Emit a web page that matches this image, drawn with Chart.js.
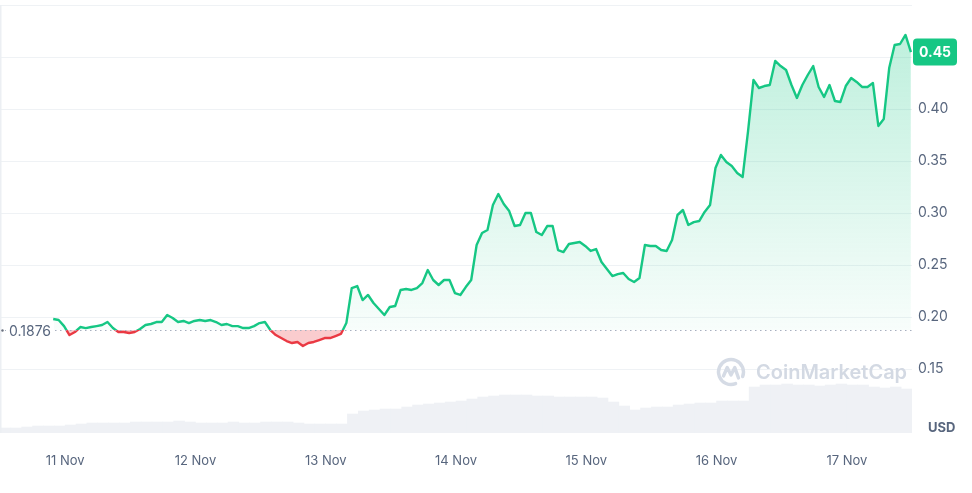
<!DOCTYPE html>
<html><head><meta charset="utf-8">
<script src="https://cdn.jsdelivr.net/npm/chart.js@4.4.0/dist/chart.umd.min.js"></script>
<style>html,body{margin:0;padding:0;background:#fff;}#wrap{width:972px;height:493px;}</style>
</head><body><div id="wrap"><canvas id="c" width="972" height="493"></canvas></div>
<script>
// ---- data ----
const dayLabels = ['11 Nov','12 Nov','13 Nov','14 Nov','15 Nov','16 Nov','17 Nov'];
const dayTicks = [0,24,48,72,96,120,144];          // hours since 11 Nov 00:00
const axisStartHour = -12, axisEndHour = 156;
const priceStartHour = -2.2, priceStepHours = 1;
const prices = [
0.1981,0.1971,0.1913,0.1827,0.1856,0.1904,0.1894,0.1904,0.1913,0.1923,
0.1952,0.1894,0.1856,0.1856,0.1846,0.1856,0.1885,0.1923,0.1933,0.1952,
0.1952,0.2019,0.1990,0.1952,0.1962,0.1942,0.1962,0.1971,0.1962,0.1971,
0.1952,0.1923,0.1933,0.1913,0.1913,0.1894,0.1894,0.1913,0.1942,0.1952,
0.1875,0.1827,0.1798,0.1769,0.1750,0.1760,0.1721,0.1750,0.1760,0.1779,
0.1798,0.1798,0.1817,0.1837,0.1942,0.2279,0.2298,0.2163,0.2212,0.2135,
0.2077,0.2019,0.2096,0.2106,0.2260,0.2269,0.2260,0.2279,0.2327,0.2452,
0.2356,0.2308,0.2356,0.2356,0.2231,0.2212,0.2288,0.2356,0.2692,0.2808,
0.2837,0.3077,0.3183,0.3087,0.3019,0.2875,0.2885,0.3000,0.3000,0.2817,
0.2788,0.2875,0.2875,0.2644,0.2625,0.2702,0.2712,0.2721,0.2683,0.2635,
0.2654,0.2529,0.2462,0.2394,0.2413,0.2423,0.2365,0.2337,0.2375,0.2692,
0.2683,0.2683,0.2644,0.2635,0.2740,0.2981,0.3029,0.2885,0.2913,0.2923,
0.3010,0.3077,0.3433,0.3558,0.3490,0.3452,0.3385,0.3346,0.3788,0.4279,
0.4202,0.4221,0.4231,0.4462,0.4413,0.4375,0.4231,0.4106,0.4231,0.4327,
0.4413,0.4212,0.4115,0.4231,0.4077,0.4067,0.4221,0.4298,0.4260,0.4212,
0.4212,0.4250,0.3837,0.3904,0.4394,0.4615,0.4625,0.4712,0.4548
];
const volumeStartHour = -11, volumeStepHours = 2;
const volumes = [
5,5,6,7,7,7,8,9,10,10,
10,10,11,11,11,11,12,11,10,10,
10,11,10,10,11,11,11,10,9,9,
9,9,19,22,23,24,24,26,28,29,
30,31,32,34,36,37,38,38,38,37,
37,36,36,36,36,35,31,27,23,25,
26,26,28,29,30,30,32,32,32,46,
48,48,49,48,48,47,48,49,48,48,
46,45,46,44
];
const volumeAxisMax = 428;
const baselinePrice = 0.1876;
const baselineLabel = '0.1876';
const lastPriceLabel = '0.45';
const priceTicks = [0.15,0.20,0.25,0.30,0.35,0.40,0.45,0.50];
const priceMin = 0.0885, priceMax = 0.50;
const currencyLabel = 'USD';
const watermark = 'CoinMarketCap';

// ---- styles ----
const GREEN = '#16c784', RED = '#ea3943', MUTED = '#58667e', GRID = '#eff2f5';
const FONT = 'Inter, "Noto Sans", sans-serif';

function baseFrac(chart){
  const a = chart.chartArea;
  const yb = chart.scales.y.getPixelForValue(baselinePrice);
  return {a, yb, f: Math.min(1, Math.max(0, (yb - a.top) / (a.bottom - a.top)))};
}
function lineColor(ctx){
  const chart = ctx.chart;
  if (!chart.chartArea) return GREEN;
  const {a, f} = baseFrac(chart);
  const g = chart.ctx.createLinearGradient(0, a.top, 0, a.bottom);
  g.addColorStop(0, GREEN); g.addColorStop(f, GREEN);
  g.addColorStop(f, RED); g.addColorStop(1, RED);
  return g;
}
function aboveFill(ctx){
  const chart = ctx.chart;
  if (!chart.chartArea) return 'rgba(22,199,132,0.15)';
  const {a, yb} = baseFrac(chart);
  const g = chart.ctx.createLinearGradient(0, a.top, 0, yb);
  g.addColorStop(0, 'rgba(22,199,132,0.30)');
  g.addColorStop(1, 'rgba(22,199,132,0.03)');
  return g;
}

const priceData = prices.map((p, i) => ({x: priceStartHour + i * priceStepHours, y: p}));
const volumeData = volumes.map((v, i) => ({x: volumeStartHour + i * volumeStepHours, y: v}));

const overlay = {
  id: 'overlay',
  beforeDatasetsDraw(chart){
    const {ctx, chartArea: a} = chart;
    ctx.save();
    const cx = a.right - 181, cy = a.bottom - 61;
    ctx.strokeStyle = '#d5dbe5'; ctx.lineWidth = 3.4; ctx.lineCap = 'round'; ctx.lineJoin = 'round';
    ctx.beginPath(); ctx.arc(cx, cy, 12.5, 0.38 * Math.PI, 2.12 * Math.PI); ctx.stroke();
    ctx.beginPath();
    ctx.moveTo(cx - 7.5, cy + 4); ctx.lineTo(cx - 3.8, cy - 4.5); ctx.lineTo(cx, cy + 3);
    ctx.lineTo(cx + 3.8, cy - 4.5); ctx.lineTo(cx + 7.5, cy + 6); ctx.stroke();
    ctx.fillStyle = '#d3d9e3'; ctx.font = '600 20px ' + FONT; ctx.textBaseline = 'middle';
    ctx.fillText(watermark, cx + 25, cy + 1);
    ctx.restore();
  },
  afterDatasetsDraw(chart){
    const {ctx, chartArea: a} = chart;
    const yb = chart.scales.y.getPixelForValue(baselinePrice);
    ctx.save();
    ctx.strokeStyle = '#a7afbf'; ctx.lineWidth = 1.2; ctx.setLineDash([1.5, 3.5]);
    ctx.beginPath(); ctx.moveTo(a.left, Math.round(yb) + 0.5); ctx.lineTo(a.right, Math.round(yb) + 0.5); ctx.stroke();
    ctx.setLineDash([]);
    ctx.strokeStyle = '#eceff3'; ctx.lineWidth = 1.5;
    ctx.beginPath(); ctx.moveTo(a.left + 0.75, a.top); ctx.lineTo(a.left + 0.75, a.bottom); ctx.stroke();
    ctx.restore();
  },
  afterDraw(chart){
    const {ctx, chartArea: a} = chart;
    const ys = chart.scales.y;
    ctx.save();
    // baseline label
    const yb = ys.getPixelForValue(baselinePrice);
    ctx.font = '14px ' + FONT; ctx.textBaseline = 'middle';
    const w = ctx.measureText(baselineLabel).width;
    ctx.fillStyle = '#fff'; ctx.fillRect(a.left + 6, yb - 8, w + 6, 18);
    ctx.fillStyle = MUTED; ctx.fillText(baselineLabel, a.left + 9, yb + 2);
    ctx.beginPath(); ctx.arc(a.left + 2.5, yb + 0.5, 1.2, 0, 2 * Math.PI); ctx.fillStyle = '#6b7280'; ctx.fill();
    // last price box
    const yl = ys.getPixelForValue(prices[prices.length - 1]);
    const bx = a.right + 1, bw = 44, bh = 27, by = yl - bh / 2;
    ctx.fillStyle = GREEN;
    ctx.beginPath(); ctx.roundRect(bx, by, bw, bh, 4); ctx.fill();
    ctx.fillStyle = '#fff'; ctx.font = 'bold 14px ' + FONT; ctx.textAlign = 'center';
    ctx.fillText(lastPriceLabel, bx + bw / 2, yl + 1);
    // currency
    ctx.fillStyle = MUTED; ctx.font = 'bold 13px ' + FONT; ctx.textAlign = 'left';
    ctx.fillText(currencyLabel, a.right + 16, a.bottom - 5);
    ctx.restore();
  }
};

new Chart(document.getElementById('c'), {
  type: 'line',
  data: {
    datasets: [
      {
        type: 'line', data: priceData, yAxisID: 'y', xAxisID: 'x', order: 1,
        borderColor: lineColor, borderWidth: 2.4, pointRadius: 0, tension: 0,
        borderJoinStyle: 'round',
        backgroundColor: aboveFill,
        fill: {target: {value: baselinePrice}, below: 'rgba(234,57,67,0.26)'}
      },
      {
        type: 'bar', data: volumeData, yAxisID: 'yv', xAxisID: 'x', order: 2,
        backgroundColor: '#eff1f5', borderWidth: 0, barPercentage: 1, categoryPercentage: 1
      }
    ]
  },
  options: {
    responsive: false, animation: false, events: [],
    layout: {autoPadding: false, padding: {top: 5, left: 0, right: 0, bottom: 0}},
    plugins: {legend: {display: false}, tooltip: {enabled: false}},
    scales: {
      x: {
        type: 'linear', min: axisStartHour, max: axisEndHour, offset: false,
        grid: {display: false, offset: false}, border: {display: false},
        afterBuildTicks: (s) => { s.ticks = dayTicks.map(v => ({value: v})); },
        afterFit: (s) => { s.height = 60; s.paddingLeft = 0; s.paddingRight = 0; },
        ticks: {
          autoSkip: false, maxRotation: 0, padding: 12, color: MUTED,
          font: {family: FONT, size: 13},
          callback: (v) => dayLabels[dayTicks.indexOf(v)]
        }
      },
      y: {
        type: 'linear', position: 'right', min: priceMin, max: priceMax,
        grid: {color: GRID, lineWidth: 1, drawTicks: false}, border: {display: false},
        afterBuildTicks: (s) => { s.ticks = priceTicks.map(v => ({value: v})); },
        afterFit: (s) => { s.width = 60; s.paddingTop = 0; s.paddingBottom = 0; },
        ticks: {
          padding: 6, color: MUTED, font: {family: FONT, size: 14},
          callback: (v) => (v >= priceMax - 1e-9 ? '' : v.toFixed(2))
        }
      },
      yv: {type: 'linear', display: false, min: 0, max: volumeAxisMax,
           afterFit: (s) => { s.paddingTop = 0; s.paddingBottom = 0; }}
    }
  },
  plugins: [overlay]
});
</script>
</body></html>
